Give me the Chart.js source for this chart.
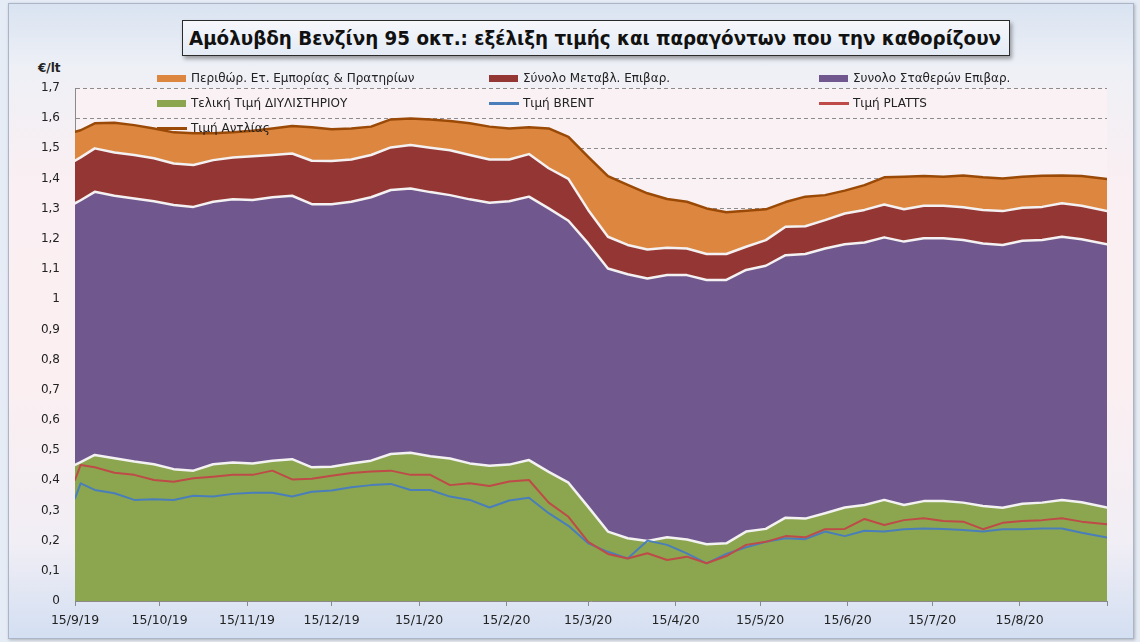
<!DOCTYPE html>
<html>
<head>
<meta charset="utf-8">
<script src="https://cdn.jsdelivr.net/npm/chart.js@4.4.1/dist/chart.umd.min.js"></script>
<style>
  html, body { margin: 0; padding: 0; }
  body { width: 1140px; height: 642px; position: relative; overflow: hidden; background: #e6ecf5; font-family: 'DejaVu Sans', sans-serif; }
  #frame {
    position: absolute; left: 8px; top: 3px; width: 1124px; height: 634px;
    border: 1px solid #aab5c8;
    background: linear-gradient(to bottom, #d9e3f1 0%, #eef0f6 10%, #faeff2 28%, #fbeff1 60%, #f1eef5 85%, #d3dff2 100%);
    box-shadow: 1px 1px 3px rgba(0,0,0,0.25);
  }
  #title {
    position: absolute; left: 182px; top: 20px; width: 826px; height: 34px;
    border: 1.5px solid #2b2b2b;
    background: linear-gradient(to bottom, #f5f7fb 0%, #e4ebf5 100%);
    box-shadow: 2px 3px 4px rgba(0,0,0,0.35);
    overflow: hidden;
  }
  #title span {
    position: absolute; left: 6px; top: 5px; white-space: nowrap;
    font-size: 20px; font-weight: bold; color: #111; transform-origin: 0 50%;
  }
  #unit { position: absolute; left: 38px; top: 61px; font-size: 12px; font-weight: bold; color: #222; }
  canvas { position: absolute; left: 0; top: 0; }
  #legend { position: absolute; left: 0; top: 0; width: 1140px; height: 140px; pointer-events: none; }
  .item { position: absolute; height: 16px; font-size: 12px; color: #222; white-space: nowrap; }
  .item i { position: absolute; left: 0; display: block; }
  .item span { position: absolute; left: 34px; top: 0; line-height: 16px; }
</style>
</head>
<body>
<div id="frame"></div>
<div id="title"><span>Αμόλυβδη Βενζίνη 95 οκτ.: εξέλιξη τιμής και παραγόντων που την καθορίζουν</span></div>
<div id="unit">€/lt</div>
<canvas id="chart" width="1140" height="642"></canvas>
<div id="legend"></div>
<script>
// days counted from 15/9/19
const days = [0, 2, 7, 14, 21, 28, 35, 42, 49, 56, 63, 70, 77, 84, 91, 98, 105, 112, 119, 126, 133,
  140, 147, 154, 161, 168, 175, 182, 189, 196, 203, 210, 217, 224, 231, 238, 245, 252, 259, 266,
  273, 280, 287, 294, 301, 308, 315, 322, 329, 336, 343, 350, 357, 366];

// top of each band (€/lt)
const refineryPrice = [0.451, 0.46, 0.484, 0.473, 0.462, 0.453, 0.437, 0.432, 0.453, 0.459, 0.456, 0.465, 0.47, 0.443,
  0.445, 0.456, 0.465, 0.487, 0.491, 0.48, 0.472, 0.456, 0.448, 0.452, 0.467, 0.428, 0.392, 0.312, 0.23, 0.208,
  0.199, 0.211, 0.204, 0.188, 0.191, 0.23, 0.239, 0.276, 0.273, 0.291, 0.31, 0.318, 0.335, 0.318, 0.331, 0.331,
  0.326, 0.315, 0.309, 0.322, 0.326, 0.335, 0.327, 0.31];
const fixedChargesTop = [1.318, 1.328, 1.356, 1.343, 1.334, 1.325, 1.312, 1.306, 1.323, 1.331, 1.329, 1.338, 1.343, 1.315,
  1.315, 1.323, 1.338, 1.362, 1.367, 1.355, 1.345, 1.331, 1.32, 1.325, 1.34, 1.301, 1.26, 1.185, 1.102, 1.083,
  1.069, 1.08, 1.08, 1.064, 1.064, 1.097, 1.111, 1.146, 1.15, 1.168, 1.182, 1.188, 1.205, 1.191, 1.202, 1.202,
  1.196, 1.185, 1.18, 1.194, 1.196, 1.207, 1.199, 1.182];
const variableChargesTop = [1.459, 1.47, 1.5, 1.486, 1.478, 1.467, 1.45, 1.445, 1.461, 1.47, 1.474, 1.478, 1.483, 1.459,
  1.458, 1.463, 1.478, 1.503, 1.511, 1.502, 1.494, 1.478, 1.463, 1.463, 1.481, 1.434, 1.399, 1.296, 1.207, 1.18,
  1.165, 1.171, 1.168, 1.15, 1.15, 1.174, 1.196, 1.24, 1.242, 1.262, 1.284, 1.296, 1.314, 1.298, 1.31, 1.31,
  1.305, 1.296, 1.292, 1.303, 1.306, 1.318, 1.31, 1.292];
const pumpPrice = [1.555, 1.56, 1.583, 1.585, 1.577, 1.566, 1.553, 1.55, 1.55, 1.553, 1.558, 1.566, 1.574, 1.57,
  1.563, 1.566, 1.572, 1.596, 1.599, 1.596, 1.591, 1.583, 1.572, 1.566, 1.57, 1.566, 1.538, 1.472, 1.408, 1.379,
  1.351, 1.332, 1.323, 1.301, 1.288, 1.293, 1.298, 1.322, 1.34, 1.345, 1.36, 1.378, 1.404, 1.406, 1.408, 1.406,
  1.41, 1.404, 1.4, 1.406, 1.409, 1.41, 1.408, 1.398];

// lines
const brentPrice = [0.34, 0.39, 0.368, 0.357, 0.335, 0.337, 0.335, 0.349, 0.346, 0.355, 0.359, 0.359, 0.346, 0.362,
  0.366, 0.377, 0.384, 0.388, 0.368, 0.368, 0.346, 0.335, 0.31, 0.333, 0.342, 0.291, 0.249, 0.191, 0.163, 0.141,
  0.2, 0.186, 0.158, 0.125, 0.156, 0.178, 0.196, 0.208, 0.205, 0.23, 0.215, 0.233, 0.23, 0.238, 0.24, 0.239,
  0.235, 0.23, 0.238, 0.238, 0.24, 0.24, 0.226, 0.21];
const plattsPrice = [0.401, 0.451, 0.443, 0.425, 0.418, 0.401, 0.395, 0.407, 0.412, 0.418, 0.418, 0.432, 0.403, 0.405,
  0.415, 0.424, 0.429, 0.432, 0.418, 0.418, 0.384, 0.39, 0.381, 0.396, 0.401, 0.326, 0.279, 0.196, 0.156, 0.141,
  0.158, 0.136, 0.147, 0.125, 0.149, 0.186, 0.196, 0.215, 0.211, 0.238, 0.239, 0.272, 0.252, 0.268, 0.274, 0.265,
  0.263, 0.238, 0.259, 0.265, 0.268, 0.274, 0.263, 0.254];

const xTickDays = [0, 30, 61, 91, 122, 153, 182, 213, 243, 274, 304, 335, 366];
const xTickLabels = ['15/9/19', '15/10/19', '15/11/19', '15/12/19', '15/1/20', '15/2/20', '15/3/20',
  '15/4/20', '15/5/20', '15/6/20', '15/7/20', '15/8/20', ''];
const yTickLabels = ['0', '0,1', '0,2', '0,3', '0,4', '0,5', '0,6', '0,7', '0,8', '0,9', '1',
  '1,1', '1,2', '1,3', '1,4', '1,5', '1,6', '1,7'];

const toPoints = values => values.map((v, i) => ({ x: days[i], y: v }));

Chart.register({
  id: 'chartAreaPlugin',
  beforeDraw: (chart) => {
    const ctx = chart.ctx;
    const { chartArea } = chart;
    ctx.save();
    ctx.fillStyle = chart.config.options.chartArea.backgroundColor;
    ctx.fillRect(chartArea.left, chartArea.top, chartArea.right - chartArea.left, chartArea.bottom - chartArea.top);
    ctx.restore();
  },
});

const bandLine = '#f3f1f1';

const chart = new Chart(document.getElementById('chart'), {
  type: 'line',
  data: {
    datasets: [
      { label: 'Τελική Τιμή ΔΙΥΛΙΣΤΗΡΙΟΥ', data: toPoints(refineryPrice), fill: 'origin',
        backgroundColor: '#8ba64e', borderColor: bandLine, borderWidth: 2.5, order: 6, legendType: 'box' },
      { label: 'Συνολο Σταθερών Επιβαρ.', data: toPoints(fixedChargesTop), fill: '-1',
        backgroundColor: '#70588f', borderColor: bandLine, borderWidth: 2.5, order: 5, legendType: 'box' },
      { label: 'Σύνολο Μεταβλ. Επιβαρ.', data: toPoints(variableChargesTop), fill: '-1',
        backgroundColor: '#943634', borderColor: bandLine, borderWidth: 2.5, order: 4, legendType: 'box' },
      { label: 'Περιθώρ. Ετ. Εμπορίας & Πρατηρίων', data: toPoints(pumpPrice), fill: '-1',
        backgroundColor: '#dd8640', borderColor: '#dd8640', borderWidth: 0, order: 3, legendType: 'box' },
      { label: 'Τιμή BRENT', data: toPoints(brentPrice), fill: false,
        borderColor: '#4a7ebb', backgroundColor: '#4a7ebb', borderWidth: 2, order: 2, legendType: 'line' },
      { label: 'Τιμή PLATTS', data: toPoints(plattsPrice), fill: false,
        borderColor: '#be4b48', backgroundColor: '#be4b48', borderWidth: 2, order: 1, legendType: 'line' },
      { label: 'Τιμή Αντλίας', data: toPoints(pumpPrice), fill: false,
        borderColor: '#9a4a06', backgroundColor: '#9a4a06', borderWidth: 2.5, order: 0, legendType: 'line' },
    ]
  },
  options: {
    responsive: false,
    animation: false,
    devicePixelRatio: 1,
    chartArea: { backgroundColor: '#f9f1f4' },
    layout: { padding: { left: 0, top: 88, right: 33, bottom: 0 } },
    elements: {
      point: { radius: 0, hoverRadius: 0 },
      line: { tension: 0, borderJoinStyle: 'round', borderCapStyle: 'round' }
    },
    plugins: {
      legend: { display: false },
      title: { display: false },
      tooltip: { enabled: false },
      filler: { drawTime: 'beforeDatasetsDraw' }
    },
    scales: {
      x: {
        type: 'linear',
        min: 0,
        max: 366,
        afterBuildTicks: scale => { scale.ticks = xTickDays.map(v => ({ value: v })); },
        afterFit: scale => { scale.height = 41; },
        grid: { drawOnChartArea: false, drawTicks: true, tickLength: 5, color: '#8a8a8a' },
        border: { display: true, color: '#8a8a8a', width: 1 },
        ticks: {
          autoSkip: false,
          maxRotation: 0,
          padding: 7,
          color: '#222',
          font: { family: "'DejaVu Sans', sans-serif", size: 12.5 },
          callback: (value, index) => xTickLabels[index]
        }
      },
      y: {
        min: 0,
        max: 1.7,
        afterBuildTicks: scale => { scale.ticks = yTickLabels.map(t => ({ value: parseFloat(t.replace(',', '.')) })); },
        afterFit: scale => { scale.width = 75; },
        grid: { drawTicks: false, color: '#8c8c8c', lineWidth: 1 },
        border: { display: true, color: '#8a8a8a', width: 1, dash: [4, 3] },
        ticks: {
          padding: 15,
          color: '#222',
          font: { family: "'DejaVu Sans', sans-serif", size: 12 },
          callback: (value, index) => yTickLabels[index]
        }
      }
    }
  }
});

// legend laid out in three columns like the original
const legendSlots = [
  { label: 'Περιθώρ. Ετ. Εμπορίας & Πρατηρίων', x: 157, y: 70 },
  { label: 'Σύνολο Μεταβλ. Επιβαρ.', x: 489, y: 70 },
  { label: 'Συνολο Σταθερών Επιβαρ.', x: 819, y: 70 },
  { label: 'Τελική Τιμή ΔΙΥΛΙΣΤΗΡΙΟΥ', x: 157, y: 95 },
  { label: 'Τιμή BRENT', x: 489, y: 95 },
  { label: 'Τιμή PLATTS', x: 819, y: 95 },
  { label: 'Τιμή Αντλίας', x: 157, y: 120 },
];
const legendEl = document.getElementById('legend');
legendSlots.forEach(slot => {
  const ds = chart.data.datasets.find(d => d.label === slot.label);
  const item = document.createElement('div');
  item.className = 'item';
  item.style.left = slot.x + 'px';
  item.style.top = slot.y + 'px';
  const sw = document.createElement('i');
  if (ds.legendType === 'box') {
    sw.style.cssText = `top:5px;width:29px;height:7px;background:${ds.backgroundColor}`;
  } else {
    sw.style.cssText = `top:7px;width:30px;height:2.5px;background:${ds.borderColor}`;
  }
  const tx = document.createElement('span');
  tx.textContent = ds.label;
  item.appendChild(sw);
  item.appendChild(tx);
  legendEl.appendChild(item);
});

// squeeze the title to the width of the original box text
const titleSpan = document.querySelector('#title span');
const tw = titleSpan.getBoundingClientRect().width;
titleSpan.style.transform = `scaleX(${812 / tw})`;
</script>
</body>
</html>
